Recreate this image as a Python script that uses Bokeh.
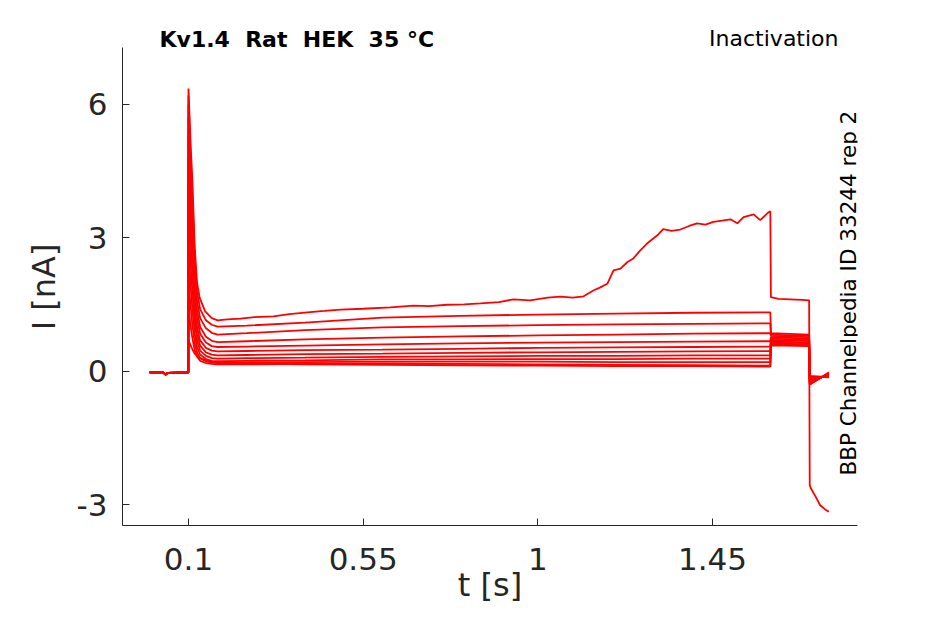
import math
from bokeh.plotting import figure
from bokeh.models import Range1d, FixedTicker, Label
from bokeh.embed import file_html
from bokeh.resources import INLINE

# ---------------- data ----------------
X_TICKS = [0.1, 0.55, 1, 1.45]
X_TICK_LABELS = ["0.1", "0.55", "1", "1.45"]
Y_TICKS = [-3, 0, 3, 6]
Y_TICK_LABELS = ["-3", "0", "3", "6"]
X_LIMITS = (-0.07, 1.8236)
Y_LIMITS = (-3.461, 7.281)

# holding period before the step (shared by all sweeps)
T_PRE = [0.0, 0.035, 0.041, 0.047, 0.0995]
I_PRE = [-0.02, -0.02, -0.07, -0.03, -0.02]

# sweeps 2..12: peak / hold / tail sample times
T_PEAK = [0.1, 0.105, 0.11, 0.116, 0.122, 0.13, 0.145, 0.16, 0.175]
T_HOLD = [0.25, 0.4, 0.6, 0.8, 1.0, 1.2, 1.4, 1.599]
T_TAIL = [1.6005, 1.699, 1.7005, 1.75]

I_PEAK = [
    [6.2, 4.9, 3.9, 2.6, 1.8, 1.4, 1.15, 1.05, 1.01],
    [6.0, 4.7, 3.6, 2.4, 1.6, 1.2, 0.97, 0.87, 0.83],
    [5.7, 4.4, 3.3, 2.1, 1.4, 1.0, 0.78, 0.69, 0.66],
    [5.3, 4.0, 3.0, 1.9, 1.2, 0.85, 0.65, 0.57, 0.55],
    [4.8, 3.6, 2.6, 1.6, 1.0, 0.7, 0.53, 0.47, 0.45],
    [4.2, 3.1, 2.2, 1.35, 0.85, 0.58, 0.43, 0.38, 0.36],
    [3.5, 2.5, 1.8, 1.1, 0.7, 0.47, 0.35, 0.3, 0.29],
    [2.8, 2.0, 1.4, 0.85, 0.55, 0.38, 0.28, 0.24, 0.23],
    [2.1, 1.5, 1.05, 0.65, 0.43, 0.3, 0.23, 0.2, 0.19],
    [1.5, 1.05, 0.75, 0.48, 0.33, 0.24, 0.19, 0.17, 0.16],
    [0.7, 0.6, 0.5, 0.4, 0.35, 0.3, 0.25, 0.22, 0.2],
]
I_HOLD = [
    [1.03, 1.1, 1.21, 1.25, 1.28, 1.3, 1.32, 1.33],
    [0.86, 0.93, 0.99, 1.02, 1.04, 1.06, 1.07, 1.08],
    [0.68, 0.72, 0.76, 0.79, 0.81, 0.83, 0.85, 0.86],
    [0.56, 0.58, 0.61, 0.63, 0.65, 0.66, 0.67, 0.68],
    [0.46, 0.48, 0.49, 0.51, 0.53, 0.54, 0.55, 0.56],
    [0.37, 0.39, 0.40, 0.42, 0.43, 0.44, 0.45, 0.46],
    [0.30, 0.31, 0.33, 0.34, 0.35, 0.35, 0.36, 0.36],
    [0.24, 0.25, 0.27, 0.27, 0.28, 0.28, 0.29, 0.29],
    [0.20, 0.21, 0.22, 0.22, 0.22, 0.21, 0.21, 0.21],
    [0.16, 0.17, 0.18, 0.17, 0.16, 0.15, 0.14, 0.13],
    [0.18, 0.16, 0.15, 0.14, 0.13, 0.12, 0.12, 0.11],
]
I_TAIL = [
    [0.86, 0.83, -0.30, -0.02],
    [0.83, 0.80, -0.28, -0.04],
    [0.80, 0.77, -0.26, -0.05],
    [0.77, 0.74, -0.24, -0.06],
    [0.74, 0.71, -0.22, -0.07],
    [0.71, 0.68, -0.20, -0.08],
    [0.68, 0.65, -0.18, -0.09],
    [0.66, 0.63, -0.16, -0.10],
    [0.63, 0.61, -0.14, -0.11],
    [0.61, 0.59, -0.12, -0.12],
    [0.59, 0.57, -0.10, -0.13],
]

# largest sweep (sweep 1)
T_TOP = [0.1, 0.105, 0.11, 0.116, 0.122, 0.129, 0.143, 0.16, 0.175,
         0.2, 0.234, 0.27, 0.319, 0.36, 0.406, 0.45, 0.492, 0.55, 0.62,
         0.68, 0.72, 0.767, 0.81, 0.852, 0.9, 0.937, 0.98, 1.025, 1.058,
         1.09, 1.118, 1.143, 1.161, 1.179, 1.195, 1.213, 1.231, 1.246, 1.264,
         1.282, 1.308, 1.323, 1.345, 1.367, 1.39, 1.41, 1.432, 1.452, 1.475,
         1.496, 1.514, 1.53, 1.556, 1.573, 1.592, 1.599,
         1.6005, 1.62, 1.65, 1.68, 1.699,
         1.7005, 1.703, 1.715, 1.727, 1.74, 1.75]
I_TOP = [6.36, 5.2, 4.3, 2.8, 2.0, 1.65, 1.35, 1.2, 1.15,
         1.17, 1.19, 1.22, 1.24, 1.29, 1.33, 1.36, 1.39, 1.41, 1.44,
         1.48, 1.47, 1.5, 1.51, 1.53, 1.56, 1.62, 1.6, 1.66, 1.68,
         1.66, 1.69, 1.82, 1.89, 1.97, 2.27, 2.31, 2.46, 2.54, 2.72,
         2.88, 3.06, 3.2, 3.16, 3.19, 3.27, 3.33, 3.3, 3.36, 3.39,
         3.42, 3.33, 3.47, 3.53, 3.4, 3.56, 3.6,
         1.67, 1.63, 1.62, 1.61, 1.6,
         -2.55, -2.62, -2.8, -3.0, -3.1, -3.15]

# double gaps kept with a no-break space so that SVG does not collapse them
TITLE = "Kv1.4 \u00a0Rat \u00a0HEK \u00a035 °C"
PROTOCOL = "Inactivation"
SOURCE = "BBP Channelpedia ID 33244 rep 2"
X_LABEL = "t [s]"
Y_LABEL = "I [nA]"
# trailing en spaces move the centred y label down onto the visible axis
Y_LABEL_PAD = "\u2002" * 3

# ---------------- figure ----------------
AX = "#262626"
FONT = "DejaVu Sans"
W, H = 929, 608
LEFT, BOTTOM, RIGHT = 122, 83, 72          # frame: x 122..857, y 0..525
PX_PER_Y = 44.5
Y_TOP = Y_LIMITS[0] + (H - BOTTOM) / PX_PER_Y   # frame extended to canvas top

p = figure(width=W, height=H, output_backend="svg", toolbar_location=None,
           x_range=Range1d(*X_LIMITS), y_range=Range1d(Y_LIMITS[0], Y_TOP),
           min_border_left=LEFT, min_border_right=RIGHT,
           min_border_top=0, min_border_bottom=BOTTOM)
p.background_fill_color = "white"
p.border_fill_color = "white"
p.outline_line_color = None
p.xgrid.visible = False
p.ygrid.visible = False

for ax in (p.xaxis[0], p.yaxis[0]):
    ax.axis_line_color = AX
    ax.axis_line_width = 1
    ax.major_tick_line_color = AX
    ax.major_tick_in = 7
    ax.major_tick_out = 0
    ax.minor_tick_line_color = None
    ax.major_label_text_color = AX
    ax.major_label_text_font = FONT
    ax.major_label_text_font_size = "31px"
    ax.axis_label_text_font = FONT
    ax.axis_label_text_font_size = "32px"
    ax.axis_label_text_font_style = "normal"
    ax.axis_label_text_color = AX

p.xaxis.ticker = FixedTicker(ticks=X_TICKS)
p.xaxis.major_label_overrides = {t: s for t, s in zip(X_TICKS, X_TICK_LABELS)}
p.xaxis.major_label_standoff = 22
p.xaxis.axis_label = X_LABEL
p.xaxis.axis_label_standoff = -7

p.yaxis.ticker = FixedTicker(ticks=Y_TICKS)
p.yaxis.major_label_overrides = {t: s for t, s in zip(Y_TICKS, Y_TICK_LABELS)}
p.yaxis.major_label_standoff = 15
p.yaxis.bounds = Y_LIMITS
p.yaxis.axis_label = Y_LABEL + Y_LABEL_PAD
p.yaxis.axis_label_standoff = 11

RED = "#ff0000"
for pk, hd, tl in zip(I_PEAK, I_HOLD, I_TAIL):
    p.line(T_PRE + T_PEAK + T_HOLD + T_TAIL, I_PRE + pk + hd + tl,
           line_color=RED, line_width=1.8)
p.line(T_PRE + T_TOP, I_PRE + I_TOP, line_color=RED, line_width=1.8)

# texts inside the (extended) frame: screen units from frame bottom-left
p.add_layout(Label(x=37, y=486, x_units="screen", y_units="screen", text=TITLE,
                   text_font=FONT, text_font_style="bold", text_font_size="22px",
                   text_color="black", text_align="left", text_baseline="middle"))
p.add_layout(Label(x=716, y=487, x_units="screen", y_units="screen", text=PROTOCOL,
                   text_font=FONT, text_font_size="22px",
                   text_color="black", text_align="right", text_baseline="middle"))
p.add_layout(Label(x=726, y=50, x_units="screen", y_units="screen", text=SOURCE,
                   angle=math.pi / 2, text_font=FONT, text_font_size="21.5px",
                   text_color="black", text_align="left", text_baseline="middle"))

open("out.html", "w").write(file_html(p, INLINE))
